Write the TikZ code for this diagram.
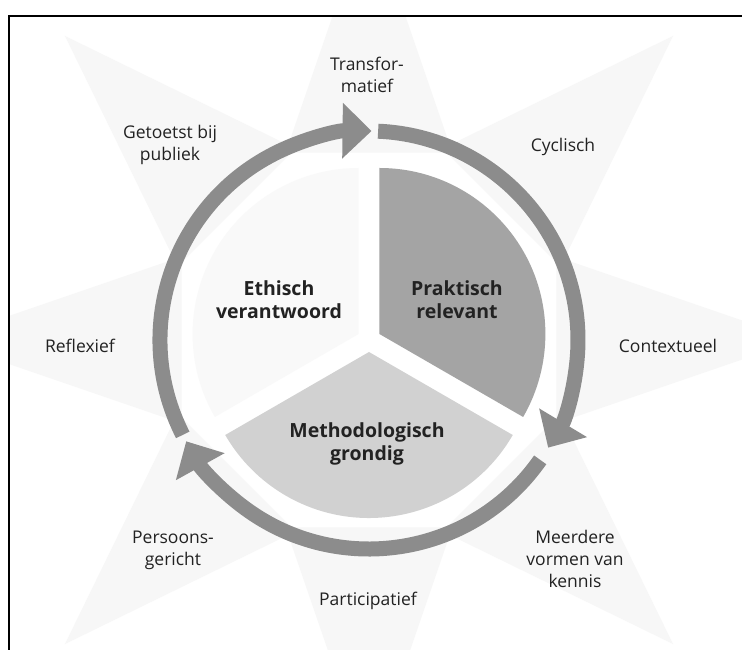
\documentclass[tikz,border=0pt]{standalone}
\usepackage{fontspec}
\setmainfont{Open Sans}
\usetikzlibrary{arrows.meta,calc}
\definecolor{ringgray}{HTML}{8C8C8C}
\definecolor{darkseg}{HTML}{A4A4A4}
\definecolor{lightseg}{HTML}{D1D1D1}
\definecolor{paleseg}{HTML}{F9F9F9}
\definecolor{rayfill}{HTML}{F7F7F7}
\definecolor{txt}{HTML}{222222}
\begin{document}
\begin{tikzpicture}[x=1pt,y=1pt,
  ring/.style={draw=ringgray,line width=15pt,-{Triangle[width=54pt,length=29pt]}},
  lbl/.style={text=txt,align=center,font=\fontsize{17.5}{22}\selectfont},
  seglbl/.style={text=txt,align=center,font=\fontsize{19.5}{23}\selectfont\bfseries},
  ray/.style={fill=rayfill,draw=none}]
\useasboundingbox (0,0) rectangle (742,650);
\fill[white] (0,0) rectangle (742,650);
\coordinate (C) at (369,310);
% faint star rays
\begin{scope}
  \clip (10,0) rectangle (742,633);
  \foreach \a in {90,45,0,-45,-90,-135,180,135}{
    \fill[ray] ($(C)+(\a-24:205)$) -- ($(C)+(\a:430)$) -- ($(C)+(\a+24:205)$) -- cycle;
  }
\end{scope}
% exploded pie
\fill[darkseg] ($(C)+(30:12)$) -- ++(90:166) arc[start angle=90,end angle=-30,radius=166] -- cycle;
\fill[lightseg] ($(C)+(270:12)$) -- ++(-30:166) arc[start angle=-30,end angle=-150,radius=166] -- cycle;
\fill[paleseg] ($(C)+(150:12)$) -- ++(210:166) arc[start angle=210,end angle=90,radius=166] -- cycle;
% ring arrows
\coordinate (r1s) at ($(C)+(87.5:209)$);
\coordinate (r2s) at ($(C)+(-35:209)$);
\coordinate (r3s) at ($(C)+(207:209)$);
\draw[ring] (r1s) arc[start angle=87.5,end angle=-31,radius=209];
\draw[ring] (r2s) arc[start angle=-35,end angle=-151,radius=209];
\draw[ring] (r3s) arc[start angle=207,end angle=89.3,radius=209];
% segment labels
\node[seglbl] (eth) at (279,350) {Ethisch\\verantwoord};
\node[seglbl] (prak) at (457,350) {Praktisch\\relevant};
\node[seglbl] (meth) at (367,206) {Methodologisch\\grondig};
% outer labels
\node[lbl] (trans) at (367,575) {Transfor-\\matief};
\node[lbl] (getoetst) at (170,505) {Getoetst bij\\publiek};
\node[lbl] (cycl) at (563,503) {Cyclisch};
\node[lbl] (refl) at (80,304) {Reflexief};
\node[lbl] (context) at (668,304) {Contextueel};
\node[lbl] (pers) at (173,100) {Persoons-\\gericht};
\node[lbl] (meer) at (575,91) {Meerdere\\vormen van\\kennis};
\node[lbl] (part) at (368,49) {Participatief};
% frame
\draw[line width=2.4pt] (8.8,0) -- (8.8,634) -- (742,634);
\end{tikzpicture}
\end{document}
